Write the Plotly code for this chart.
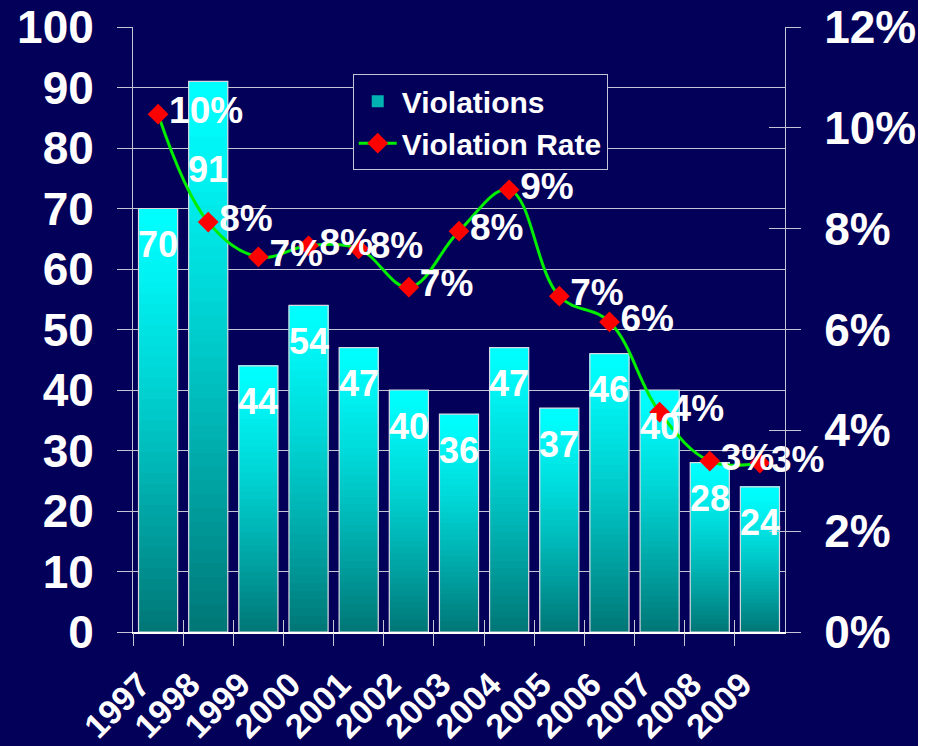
import plotly.graph_objects as go

years = ["1997", "1998", "1999", "2000", "2001", "2002", "2003",
         "2004", "2005", "2006", "2007", "2008", "2009"]
violations = [70, 91, 44, 54, 47, 40, 36, 47, 37, 46, 40, 28, 24]
rate_pct = [10.27, 8.13, 7.44, 7.66, 7.60, 6.84, 7.95, 8.77, 6.66, 6.15, 4.36, 3.39, 3.35]
rate_labels = ["10%", "8%", "7%", "8%", "8%", "7%", "8%", "9%", "7%", "6%", "4%", "3%", "3%"]

NAVY = "#03005A"
GRID = "#C4C4D4"
FONT = "Arial, Liberation Sans, sans-serif"

xs = list(range(len(years)))
rates = [r / 100 for r in rate_pct]
boundaries = [i - 0.5 for i in xs]

fig = go.Figure()

# gradient bars: stacked overlay layers, top cyan -> bottom teal
N = 40
for k in range(N):
    t_mid = 1 - (k + 0.5) / N
    g = 255 - (255 - 118) * (t_mid ** 1.3)
    col = f"rgb(0,{int(g)},{int(g)})"
    fig.add_trace(go.Bar(
        x=xs, y=[v * (1 - k / N) for v in violations],
        base=[v * k / N for v in violations],
        width=0.78, marker=dict(color=col, line=dict(width=0)),
        name="Violations", showlegend=(k == 14), legendrank=1,
        hoverinfo="skip",
    ))
# outline
fig.add_trace(go.Bar(
    x=xs, y=violations, width=0.78,
    marker=dict(color="rgba(0,0,0,0)", line=dict(color="#D8D8E0", width=1.2)),
    showlegend=False, hoverinfo="skip",
))

# invisible anchors so the extra tick axes get drawn
for xa, ya in [("x2", "y"), ("x3", "y"), ("x", "y3")]:
    fig.add_trace(go.Scatter(x=[0], y=[0], xaxis=xa, yaxis=ya, mode="markers",
                             marker=dict(opacity=0), showlegend=False,
                             hoverinfo="skip"))

fig.add_trace(go.Scatter(
    x=xs, y=rates, yaxis="y2", name="Violation Rate",
    mode="lines+markers+text",
    line=dict(color="#00EE00", width=3, shape="spline", smoothing=1.1),
    marker=dict(symbol="diamond", size=16, color="#FF0000"),
    text=rate_labels, textposition="middle right",
    textfont=dict(family=FONT, size=37, color="white", weight="bold"),
    legendrank=2, cliponaxis=False,
))

label_nudge = {1: -52}
annotations = []
for i, v in enumerate(violations):
    annotations.append(dict(
        x=i, y=v, xref="x", yref="y", text=str(v), showarrow=False,
        yanchor="middle", yshift=-36 + label_nudge.get(i, 0),
        font=dict(family=FONT, size=36, color="white", weight="bold"),
    ))

tick_font = dict(family=FONT, size=46, color="white", weight="bold")

fig.update_layout(
    width=936, height=746,
    margin=dict(l=133, r=151, t=27, b=114),
    paper_bgcolor=NAVY, plot_bgcolor=NAVY,
    barmode="overlay",
    showlegend=True,
    legend=dict(x=0.337, y=0.922, xanchor="left", yanchor="top",
                bgcolor=NAVY, bordercolor=GRID, borderwidth=1,
                font=dict(family=FONT, size=30, color="white", weight="bold"),
                traceorder="normal", tracegroupgap=0, itemwidth=38),
    # year labels (slightly right of the category boundary ticks)
    xaxis=dict(range=[-0.5, 12.5], tickmode="array",
               tickvals=[b + 0.14 for b in boundaries], ticktext=years,
               tickangle=-45, ticks="",
               showgrid=False, zeroline=False, showline=True,
               linecolor="white", linewidth=2, automargin=False,
               tickfont=dict(family=FONT, size=34, color="white", weight="bold"),
               ticklabelstandoff=17),
    xaxis2=dict(range=[-0.5, 12.5], overlaying="x", anchor="y", side="bottom",
                tickmode="array", tickvals=boundaries,
                ticks="outside", ticklen=13, tickcolor=GRID, automargin=False,
                showticklabels=False, showgrid=False, zeroline=False, showline=False),
    xaxis3=dict(range=[-0.5, 12.5], overlaying="x", anchor="y", side="bottom",
                tickmode="array", tickvals=boundaries,
                ticks="inside", ticklen=12, tickcolor=GRID, automargin=False,
                showticklabels=False, showgrid=False, zeroline=False, showline=False),
    yaxis=dict(range=[0, 100], dtick=10, showgrid=True, gridcolor=GRID, gridwidth=1,
               ticks="outside", ticklen=15, tickcolor=GRID, automargin=False,
               showline=True, linecolor=GRID, zeroline=False,
               tickfont=tick_font, ticklabelstandoff=14),
    yaxis2=dict(range=[0, 0.12], dtick=0.02, tickformat=".0%", overlaying="y",
                side="right", showgrid=False, zeroline=False, automargin=False,
                ticks="outside", ticklen=15, tickcolor=GRID,
                showline=True, linecolor=GRID,
                tickfont=tick_font, ticklabelstandoff=14),
    yaxis3=dict(range=[0, 0.12], dtick=0.02, overlaying="y", side="right",
                anchor="x", showgrid=False, zeroline=False, automargin=False,
                ticks="inside", ticklen=16, tickcolor=GRID,
                showticklabels=False, showline=False),
    annotations=annotations,
    shapes=[dict(type="rect", xref="paper", yref="paper",
                 x0=(918 - 133) / 652, x1=1.5, y0=-1, y1=2,
                 fillcolor="white", line=dict(width=0), layer="above")],
)

fig.write_html("out.html", config={"displayModeBar": False},
               post_script="document.body.style.margin='0';document.body.style.overflow='hidden';")
